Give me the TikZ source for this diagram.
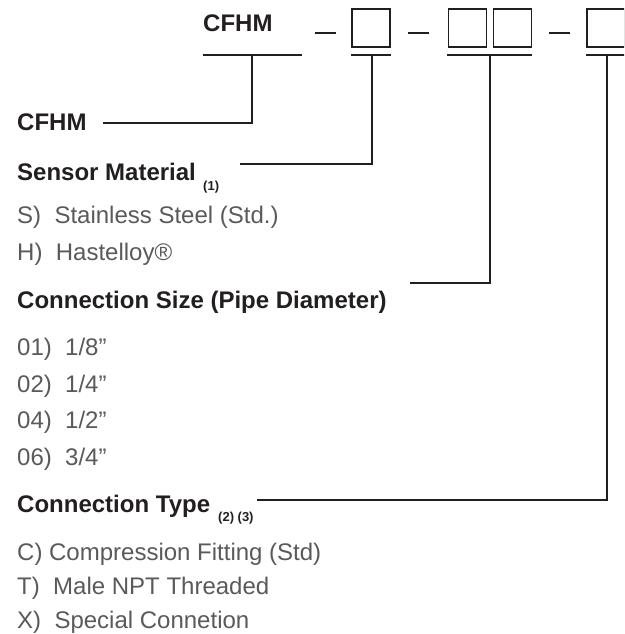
\documentclass[tikz,border=0pt]{standalone}
\usepackage{fontspec}
\setmainfont{Liberation Sans}
\definecolor{ink}{HTML}{231F20}
\definecolor{itemgray}{HTML}{5A5A5C}
\begin{document}
\begin{tikzpicture}[x=1pt,y=-1pt,
  hdr/.style={anchor=base west, inner sep=0pt, font=\fontsize{24}{28}\selectfont\bfseries, text=ink},
  item/.style={anchor=base west, inner sep=0pt, font=\fontsize{24}{28}\selectfont, text=itemgray},
  subs/.style={anchor=base west, inner sep=0pt, font=\fontsize{13}{15}\selectfont\bfseries, text=ink},
  ln/.style={draw=ink, line width=1.5pt},
  slot/.style={draw=ink, line width=1.5pt, minimum width=38pt, minimum height=38pt, inner sep=0pt}]
\useasboundingbox (0,0) rectangle (624,634);
\clip (0,0) rectangle (624,634);
\fill[white] (0,0) rectangle (624,634);
% code line
\node[hdr] (code) at (203,32) {CFHM};
\draw[ln] (315,33) -- (336,33);
\node[slot] (b1) at (371,28) {};
\draw[ln] (408,33) -- (429,33);
\node[slot] (b2a) at (467.5,28) {};
\node[slot] (b2b) at (512.5,28) {};
\draw[ln] (549,33) -- (570,33);
\node[slot] (b3) at (606,28) {};
% underlines
\draw[ln] (203,55) -- (302,55);
\draw[ln] (351,55) -- (391,55);
\draw[ln] (447,55) -- (532,55);
\draw[ln] (586,55) -- (630,55);
\coordinate (s0) at (252,55);
\coordinate (s1) at (372,55);
\coordinate (s2) at (490,55);
\coordinate (s3) at (607,55);
\coordinate (e0) at (103,123);
\coordinate (e1) at (240,164);
\coordinate (e2) at (410,283);
\coordinate (e3) at (257,500);
% labels
\node[hdr] (lab0) at (17,130) {CFHM};
\node[hdr] (lab1) at (17,180) {Sensor Material};
\node[subs] (sub1) at (203,190) {(1)};
\node[item] (i1) at (17,223) {S)\ \ Stainless Steel (Std.)};
\node[item] (i2) at (17,260) {H)\ \ Hastelloy®};
\node[hdr] (lab2) at (17,308) {Connection Size (Pipe Diameter)};
\node[item] (i3) at (17,355) {01)\ \ 1/8”};
\node[item] (i4) at (17,392) {02)\ \ 1/4”};
\node[item] (i5) at (17,428) {04)\ \ 1/2”};
\node[item] (i6) at (17,465) {06)\ \ 3/4”};
\node[hdr] (lab3) at (17,512) {Connection Type};
\node[subs] (sub3) at (218,521) {(2) (3)};
\node[item] (i7) at (17,560) {C) Compression Fitting (Std)};
\node[item] (i8) at (17,594) {T)\ \ Male NPT Threaded};
\node[item] (i9) at (17,628) {X)\ \ Special Connetion};
% connectors
\draw[ln] (s0) |- (e0);
\draw[ln] (s1) |- (e1);
\draw[ln] (s2) |- (e2);
\draw[ln] (s3) |- (e3);
\end{tikzpicture}
\end{document}
